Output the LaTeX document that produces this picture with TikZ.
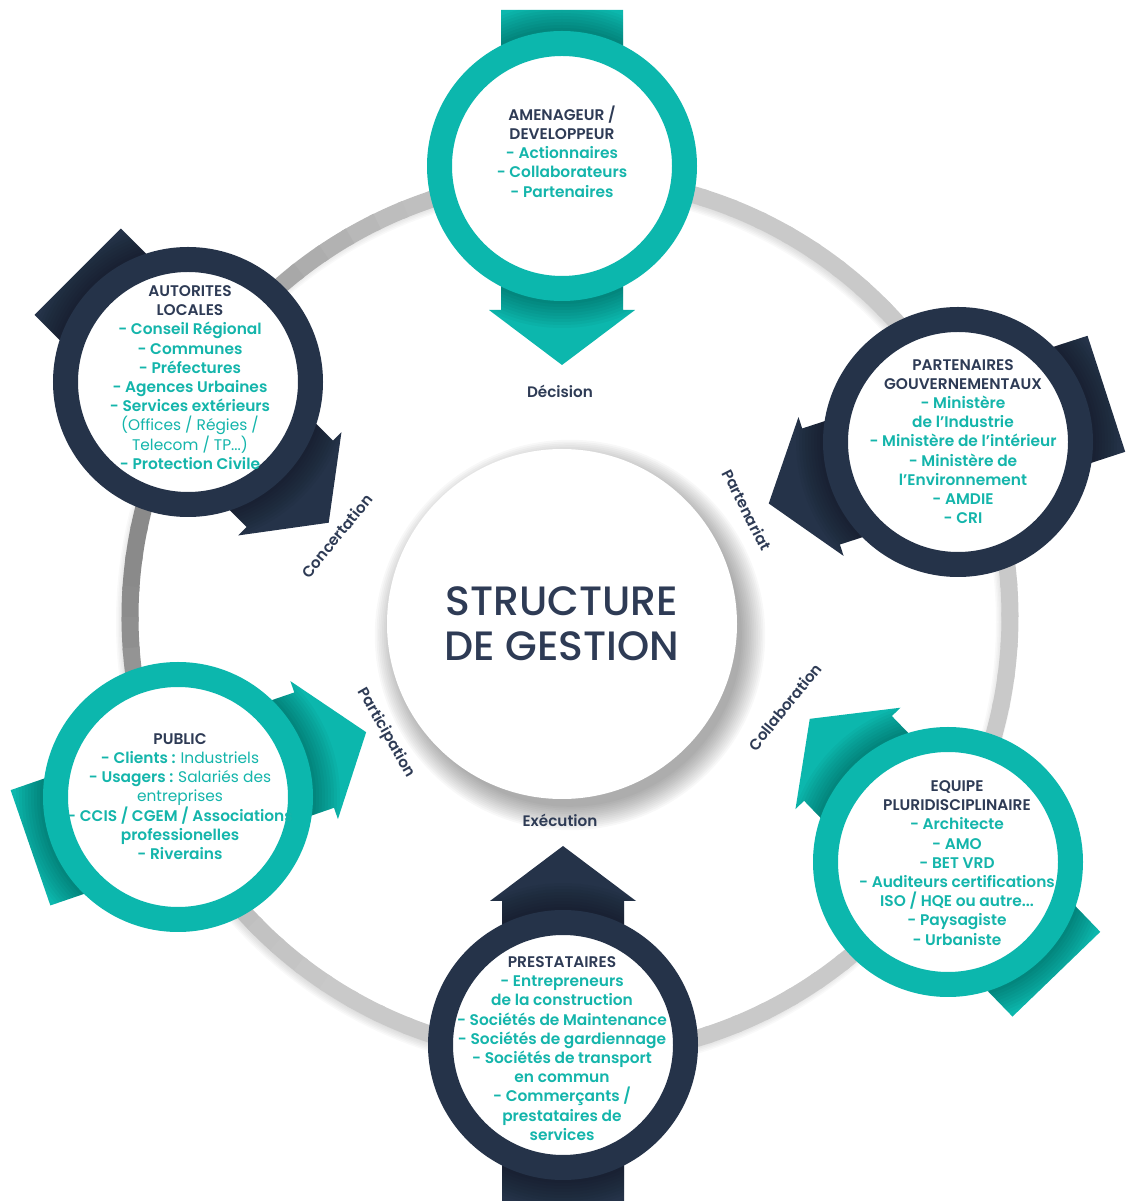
\documentclass[tikz,border=0pt]{standalone}
\usepackage{fontspec}
\setmainfont{Poppins}[BoldFont={Poppins SemiBold}]
\newfontfamily\titlefont{Poppins Medium}
\usepackage{xcolor}
\usetikzlibrary{positioning}

\definecolor{tealc}{HTML}{0CB7AD}
\definecolor{navyc}{HTML}{253349}
\definecolor{headc}{HTML}{2E3B55}
\definecolor{itemc}{HTML}{14B5AB}

\newcommand{\hd}[1]{\textcolor{headc}{#1}}
% big flow arrow through a satellite: centre, angle, colour
\newcommand{\flowarrow}[3]{%
  \fill[#3, shift={(#1)}, rotate=#2] (-156,-61) -- (144,-61) -- (144,-73) -- (199,0)
    -- (144,73) -- (144,61) -- (-156,61) -- cycle;
  \begin{scope}
    \clip[shift={(#1)}, rotate=#2] (-156,-61) -- (144,-61) -- (144,-73) -- (199,0)
      -- (144,73) -- (144,61) -- (-156,61) -- cycle;
    \foreach \k in {1,...,9} \fill[black, opacity=0.03] (#1) circle ({135+\k*3});
  \end{scope}}

\tikzset{
  sat/.style={circle, fill=white, draw=#1, line width=12.5pt, minimum size=122.5pt, inner sep=0pt},
  txt/.style={align=center, text=itemc, font=\fontsize{7.7}{9.6}\selectfont\bfseries},
  lbl/.style={text=headc, font=\fontsize{7.6}{8}\selectfont\bfseries}
}

\begin{document}
\begin{tikzpicture}[x=0.5pt, y=0.5pt]
\useasboundingbox (0,0) rectangle (1126,1201);

% grey ring behind everything, darker on the left
\coordinate (hub) at (570,584);
\foreach \k in {1,...,6}
  \draw[line width={(4+\k*3)*0.5pt}, black, opacity=0.025] ([shift={(-3,-5)}]hub) circle (440);
\foreach \a in {0,4,...,356}{
  \pgfmathsetmacro\dk{int(21+26*max(0,cos(\a-165))^3)}
  \draw[line width=8.5pt, black!\dk] (hub) ++(\a:440) arc[start angle=\a, end angle=\a+4.6, radius=440];
}

% satellite positions
\coordinate (c-amen) at (562,1035);
\coordinate (c-auto) at (188,819);
\coordinate (c-part) at (958,759);
\coordinate (c-publ) at (178,404);
\coordinate (c-equi) at (948,339);
\coordinate (c-pres) at (563,156);

% arrows
\flowarrow{c-amen}{270}{tealc}
\flowarrow{c-auto}{-45}{navyc}
\flowarrow{c-part}{198}{navyc}
\flowarrow{c-publ}{19}{tealc}
\flowarrow{c-equi}{134}{tealc}
\flowarrow{c-pres}{90}{navyc}

% circles
\node[sat=tealc] (amen) at (c-amen) {};
\node[sat=navyc] (auto) at (c-auto) {};
\node[sat=navyc] (part) at (c-part) {};
\node[sat=tealc] (publ) at (c-publ) {};
\node[sat=tealc] (equi) at (c-equi) {};
\node[sat=navyc] (pres) at (c-pres) {};

\node[txt] (amen-t) at (562,1049.5) {\hd{AMENAGEUR /}\\\hd{DEVELOPPEUR}\\- Actionnaires\\- Collaborateurs\\- Partenaires};
\node[txt] (auto-t) at (190,823.5) {\hd{AUTORITES}\\\hd{LOCALES}\\- Conseil Régional\\- Communes\\- Préfectures\\- Agences Urbaines\\- Services extérieurs\\\mdseries(Offices / Régies /\\\mdseries Telecom / TP...)\\- Protection Civile};
\node[txt] (part-t) at (963,759.5) {\hd{PARTENAIRES}\\\hd{GOUVERNEMENTAUX}\\- Ministère\\de l’Industrie\\- Ministère de l’intérieur\\- Ministère de\\l’Environnement\\- AMDIE\\- CRI};
\node[txt] (publ-t) at (180,404.5) {\hd{PUBLIC}\\- Clients : \mdseries Industriels\\- Usagers : \mdseries Salariés des\\\mdseries entreprises\\- CCIS / CGEM / Associations\\professionelles\\- Riverains};
\node[txt] (equi-t) at (957,338) {\hd{EQUIPE}\\\hd{PLURIDISCIPLINAIRE}\\- Architecte\\- AMO\\- BET VRD\\- Auditeurs certifications\\ISO / HQE ou autre...\\- Paysagiste\\- Urbaniste};
\node[txt] (pres-t) at (562,152.5) {\hd{PRESTATAIRES}\\- Entrepreneurs\\de la construction\\- Sociétés de Maintenance\\- Sociétés de gardiennage\\- Sociétés de transport\\en commun\\- Commerçants /\\prestataires de\\services};

% central hub with its soft shadow
\foreach \k in {1,...,14}
  \fill[black, opacity=0.028] ([shift={(8,-11)}]562,577) circle ({170+\k*1.8});
\node[circle, fill=white, minimum size=175pt, inner sep=0pt] (core) at (562,577) {};
\node[align=center, text=headc, font=\titlefont\fontsize{20.5}{22.5}\selectfont] (core-t) at (core) {STRUCTURE\\DE GESTION};

% link labels
\node[lbl] (l-dec) at (560,810) {Décision};
\node[lbl] (l-exe) at (560,381) {Exécution};
\node[lbl, rotate=51] (l-con) at (337,665) {Concertation};
\node[lbl, rotate=-63] (l-par) at (747,691) {Partenariat};
\node[lbl, rotate=-60] (l-pat) at (386,468) {Participation};
\node[lbl, rotate=51] (l-col) at (785,494) {Collaboration};
\end{tikzpicture}
\end{document}
